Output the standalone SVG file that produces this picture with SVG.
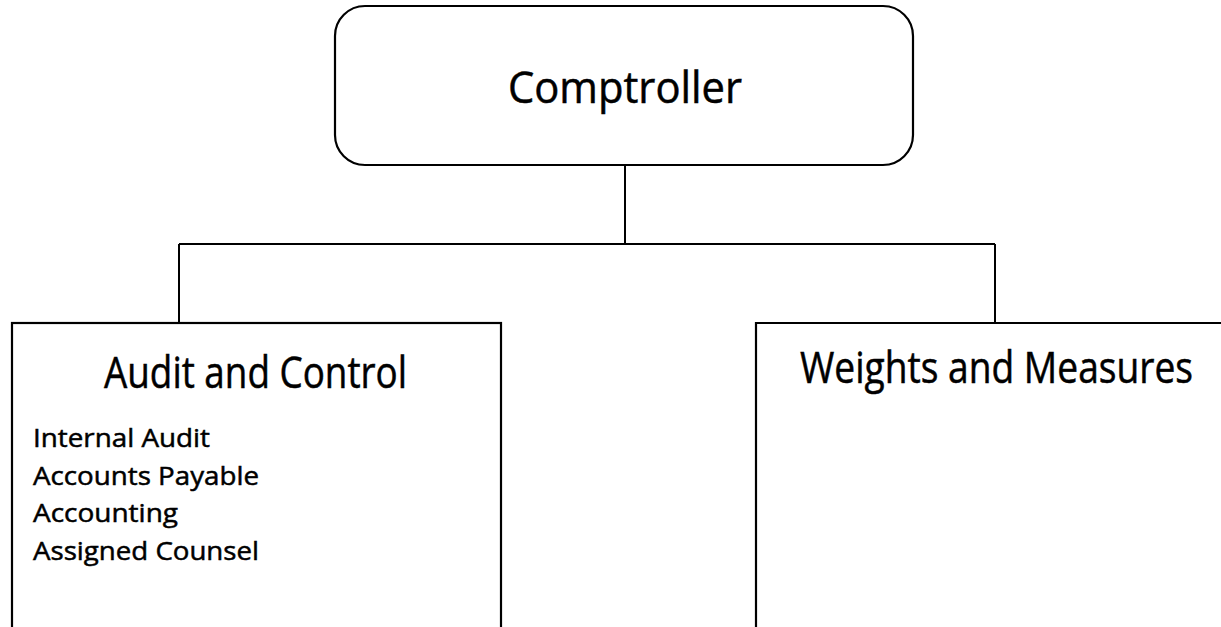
<svg xmlns="http://www.w3.org/2000/svg" width="1221" height="627" viewBox="0 0 1221 627">
<style>
.box{fill:#fff;stroke:#000;stroke-width:2.2}
.conn{fill:none;stroke:#000;stroke-width:2}
.t{font-family:"Open Sans","Noto Sans","Liberation Sans",sans-serif;fill:#000;stroke:#000;stroke-width:0.5}
.big{font-size:43px}
.small{font-size:26px}
</style>
<rect width="1221" height="627" fill="#fff"/>
<g id="connectors">
<path class="conn" d="M625 165 V244 M179 244 H995 M179 244 V323 M995 244 V323"/>
</g>
<g id="comptroller">
<rect class="box" x="335" y="6" width="578" height="159" rx="30" ry="30"/>
<text class="t big" x="508" y="103" textLength="234" lengthAdjust="spacingAndGlyphs">Comptroller</text>
</g>
<g id="audit-control">
<rect class="box" x="12" y="323" width="489" height="320"/>
<text class="t big" x="104" y="388" textLength="303" lengthAdjust="spacingAndGlyphs">Audit and Control</text>
<text class="t small" x="33" y="447" textLength="177" lengthAdjust="spacingAndGlyphs">Internal Audit</text>
<text class="t small" x="33" y="485" textLength="226" lengthAdjust="spacingAndGlyphs">Accounts Payable</text>
<text class="t small" x="33" y="522" textLength="145" lengthAdjust="spacingAndGlyphs">Accounting</text>
<text class="t small" x="33" y="560" textLength="226" lengthAdjust="spacingAndGlyphs">Assigned Counsel</text>
</g>
<g id="weights-measures">
<path class="box" d="M1221 323 H756 V627"/>
<text class="t big" x="800" y="383" textLength="393" lengthAdjust="spacingAndGlyphs">Weights and Measures</text>
</g>
</svg>
